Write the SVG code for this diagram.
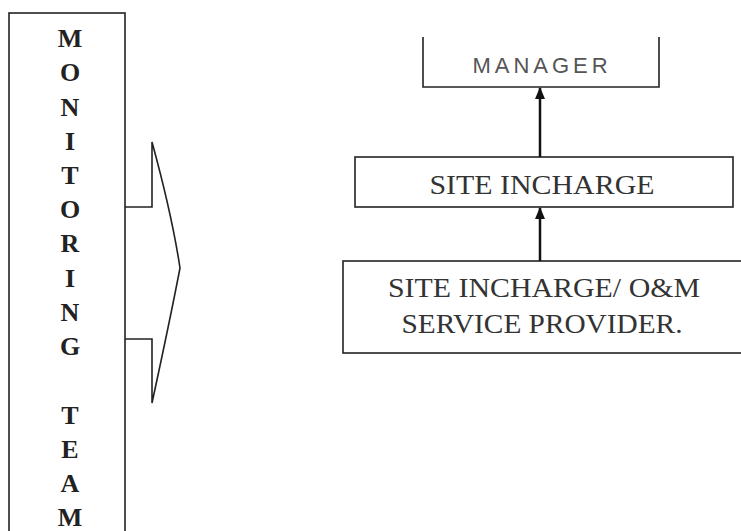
<svg xmlns="http://www.w3.org/2000/svg" width="741" height="531" viewBox="0 0 741 531">
<style>
.box{fill:#fff;stroke:#222;stroke-width:1.6}
.ln{fill:none;stroke:#222;stroke-width:1.6}
.v{font-family:"Liberation Serif",serif;font-size:26px;fill:#222;text-anchor:middle;font-weight:bold}
.s{font-family:"Liberation Serif",serif;font-size:27px;fill:#333;text-anchor:middle}
.m{font-family:"Liberation Sans",sans-serif;font-size:22px;fill:#555;text-anchor:middle;letter-spacing:4px}
.c{stroke:#111;stroke-width:2.5;fill:none}
</style>
<defs>
<marker id="ah" markerWidth="12" markerHeight="10" refX="11" refY="5" orient="auto" markerUnits="userSpaceOnUse" viewBox="0 0 12 10">
<path d="M0,0 L12,5 L0,10 Z" fill="#111"/>
</marker>
</defs>
<rect width="741" height="531" fill="#fff"/>
<g id="arrow-shape">
<path class="ln" d="M125,207 L152,207 L152,142 Q172,215 180,268 Q170,320 152,403 L152,339 L125,339"/>
</g>
<g id="monitoring-team">
<rect class="box" x="9" y="13" width="116" height="530"/>
<text class="v" x="70" y="47">M</text>
<text class="v" x="70" y="81">O</text>
<text class="v" x="70" y="116">N</text>
<text class="v" x="70" y="150">I</text>
<text class="v" x="70" y="184">T</text>
<text class="v" x="70" y="218">O</text>
<text class="v" x="70" y="252">R</text>
<text class="v" x="70" y="287">I</text>
<text class="v" x="70" y="321">N</text>
<text class="v" x="70" y="355">G</text>
<text class="v" x="70" y="424">T</text>
<text class="v" x="70" y="458">E</text>
<text class="v" x="70" y="492">A</text>
<text class="v" x="70" y="526">M</text>
</g>
<g id="manager">
<path class="ln" d="M423,37 L423,87 L659,87 L659,37"/>
<text class="m" x="542" y="73">MANAGER</text>
</g>
<g id="site-incharge">
<rect class="box" x="355" y="157" width="378" height="50"/>
<text class="s" x="542" y="194" textLength="225" lengthAdjust="spacingAndGlyphs">SITE INCHARGE</text>
</g>
<g id="service-provider">
<rect class="box" x="343" y="261" width="410" height="92"/>
<text class="s" x="544" y="297" textLength="312" lengthAdjust="spacingAndGlyphs">SITE INCHARGE/ O&amp;M</text>
<text class="s" x="542" y="333" textLength="281" lengthAdjust="spacingAndGlyphs">SERVICE PROVIDER.</text>
</g>
<g id="connectors">
<line class="c" x1="540" y1="157" x2="540" y2="88" marker-end="url(#ah)"/>
<line class="c" x1="540" y1="261" x2="540" y2="208" marker-end="url(#ah)"/>
</g>
</svg>
